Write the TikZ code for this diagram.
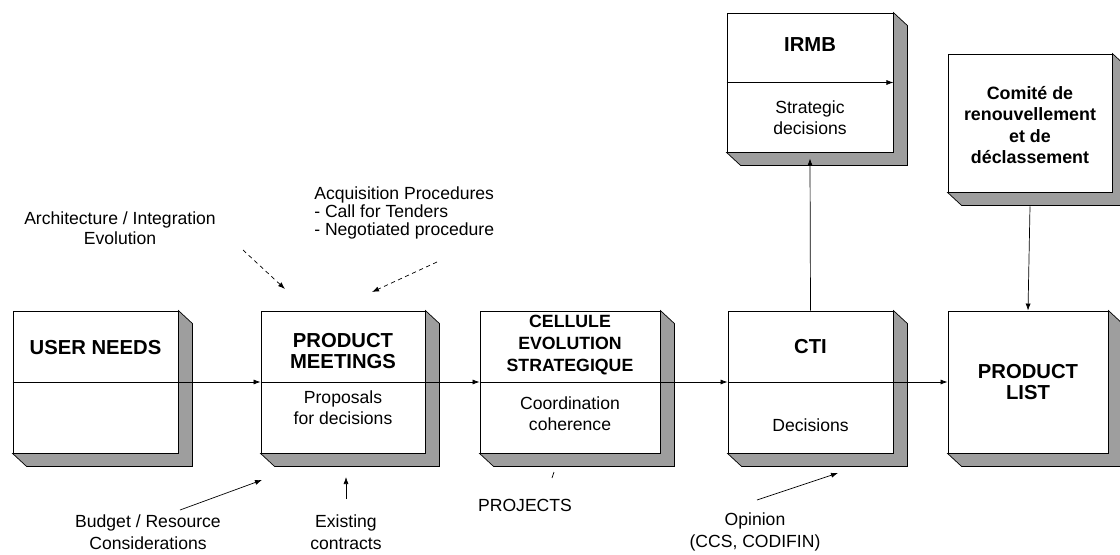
\documentclass[tikz,border=0pt]{standalone}
\usepackage{fontspec}
\setmainfont{Liberation Sans}
\usetikzlibrary{arrows.meta,calc}

\tikzset{
  box/.style={draw, line width=0.6pt, fill=white, inner sep=0pt},
  side/.style={draw, line width=0.5pt, fill=black!38},
  title/.style={align=center, inner sep=0pt, font=\bfseries\fontsize{14.4}{15.6}\selectfont},
  body/.style={align=center, inner sep=0pt, font=\fontsize{12.5}{15}\selectfont},
  flow/.style={line width=0.5pt, -{Latex[length=5pt,width=3.6pt]}},
  hint/.style={flow, dash pattern=on 3pt off 2.5pt},
}

\begin{document}
\begin{tikzpicture}[x=0.025cm, y=-0.025cm]
    \useasboundingbox (0,0) rectangle (1120,554);

    % Main row of boxes
    \node[box, minimum width=4.125cm, minimum height=3.55cm] (user) at (95.5,382) {};
    \node[box, minimum width=4.1cm, minimum height=3.55cm] (meet) at (343,382) {};
    \node[box, minimum width=4.5cm, minimum height=3.55cm] (cell) at (570,382) {};
    \node[box, minimum width=4.125cm, minimum height=3.55cm] (cti) at (810.5,382) {};
    \node[box, minimum width=4cm, minimum height=3.55cm] (list) at (1028,382) {};

    % Upper boxes
    \node[box, minimum width=4.15cm, minimum height=3.475cm] (irmb) at (810,82.5) {};
    \node[box, minimum width=4.1cm, minimum height=3.45cm] (comite) at (1030,123) {};

    % Shaded sides
    \foreach \b in {user,meet,cell,cti,list,irmb,comite}
        \draw[side] (\b.north east) -- ++(14,13) -- ($(\b.south east)+(14,13)$)
            -- ($(\b.south west)+(14,13)$) -- (\b.south west) -- (\b.south east) -- cycle;

    % Box texts
    \node[title] (usert) at (95.5,348) {USER NEEDS};
    \node[title] (meett) at (343,351) {PRODUCT\\MEETINGS};
    \node[body] (meetb) at (343,408) {Proposals\\for decisions};
    \node[title, font=\bfseries\fontsize{12.6}{15.6}\selectfont] (cellt) at (570,345) {CELLULE\\EVOLUTION\\STRATEGIQUE};
    \node[body] (cellb) at (570,414) {Coordination\\coherence};
    \node[title] (ctit) at (810.5,347) {CTI};
    \node[body] (ctib) at (810.5,425) {Decisions};
    \node[title] (listt) at (1028,382) {PRODUCT\\LIST};
    \node[title] (irmbt) at (810,45) {IRMB};
    \node[body] (irmbb) at (810,118) {Strategic\\decisions};
    \node[title, font=\bfseries\fontsize{12.7}{15}\selectfont] (comitet) at (1030,125)
        {Comit\'e de\\renouvellement\\et de\\d\'eclassement};

    % Outside labels
    \node[body, font=\fontsize{12.5}{14.4}\selectfont] (arch) at (120,228) {Architecture / Integration\\Evolution};
    \node[body, align=left, anchor=west, font=\fontsize{12.5}{12.8}\selectfont] (acq) at (314,212.5)
        {Acquisition Procedures\\- Call for Tenders\\- Negotiated procedure};
    \node[body, font=\fontsize{12.5}{15.4}\selectfont] (budget) at (148,532) {Budget / Resource\\Considerations};
    \node[body, font=\fontsize{12.5}{15.4}\selectfont] (exist) at (346,532) {Existing\\contracts};
    \node[body] (proj) at (525,505) {PROJECTS};
    \node[body, font=\fontsize{12.5}{15.4}\selectfont] (opin) at (755,532) {Opinion\\(CCS, CODIFIN)};

    % Main flow
    \draw[flow] (user.west) -- (meet.west);
    \draw[flow] (meet.west) -- (cell.west);
    \draw[flow] (cell.west) -- (cti.west);
    \draw[flow] (cti.west) -- (list.west);
    \draw[flow] (irmb.west) -- (irmb.east);
    \draw[flow] (cti.north) -- ($(irmb.south)+(0,6)$);
    \draw[flow] ($(comite.south)+(0,14)$) -- (list.north);

    % Influences
    \coordinate (archs) at (243,250);
    \coordinate (archt) at (285,289);
    \coordinate (acqs) at (437,262);
    \coordinate (acqt) at (372,292);
    \coordinate (buds) at (180,510);
    \coordinate (budt) at (262,480);
    \coordinate (exs) at (346,499);
    \coordinate (ext) at (346,477);
    \coordinate (ops) at (757,500);
    \coordinate (opt) at (838,473);
    \coordinate (prs) at (552,478);
    \coordinate (prt) at (554,472);
    \draw[hint] (archs) -- (archt);
    \draw[hint] (acqs) -- (acqt);
    \draw[flow] (buds) -- (budt);
    \draw[flow] (exs) -- (ext);
    \draw[flow] (ops) -- (opt);
    \draw[line width=0.5pt] (prs) -- (prt);
\end{tikzpicture}
\end{document}
